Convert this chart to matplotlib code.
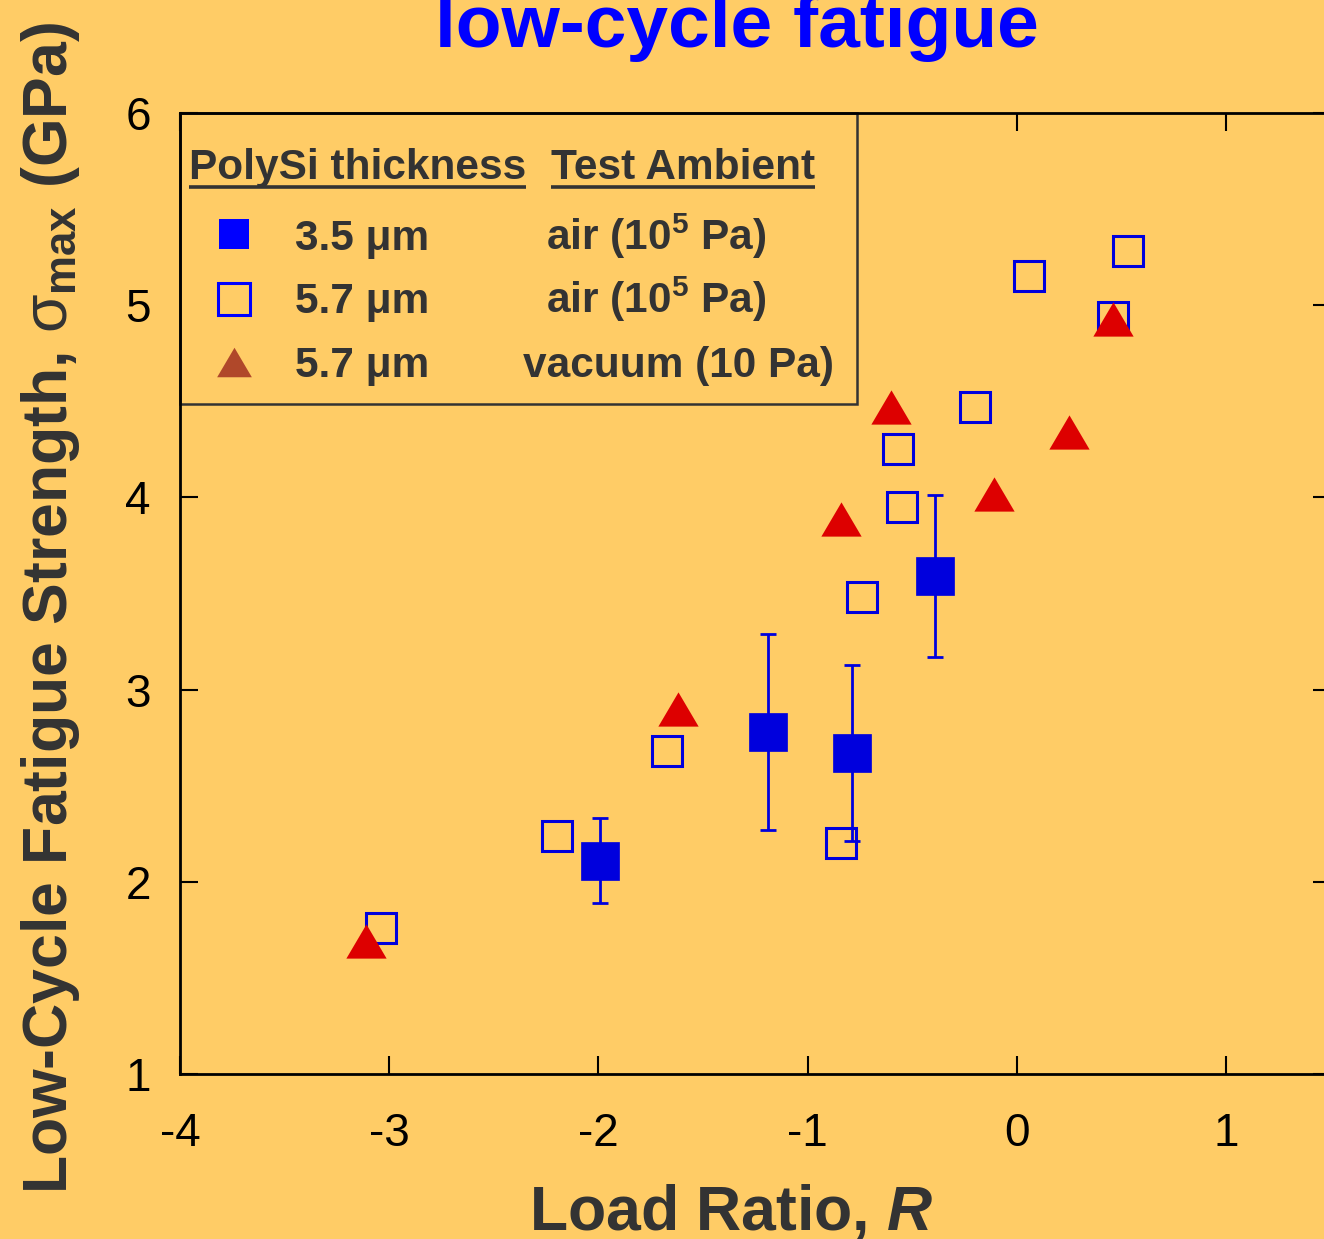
import matplotlib
matplotlib.use("Agg")
import matplotlib.pyplot as plt
from matplotlib.patches import Rectangle

plt.rcParams['font.family'] = ['Liberation Sans', 'DejaVu Sans']
plt.rcParams['mathtext.fontset'] = 'custom'
plt.rcParams['mathtext.rm'] = 'Liberation Sans:bold'
plt.rcParams['mathtext.bf'] = 'Liberation Sans:bold'
plt.rcParams['mathtext.it'] = 'Liberation Sans'
plt.rcParams['mathtext.bfit'] = 'Liberation Sans:italic:bold'

# 3.5 um film, air, with scatter bars
x_thin = [-1.99, -1.19, -0.79, -0.39]
y_thin = [2.11, 2.78, 2.67, 3.59]
err_thin = [0.22, 0.51, 0.46, 0.42]

# 5.7 um film, air
x_thick_air = [-3.04, -2.20, -1.67, -0.84, -0.74, -0.55, -0.57, -0.20, 0.06, 0.53, 0.46]
y_thick_air = [1.76, 2.24, 2.68, 2.20, 3.48, 3.95, 4.25, 4.47, 5.15, 5.28, 4.94]

# 5.7 um film, vacuum
x_thick_vac = [-3.11, -1.62, -0.84, -0.60, -0.11, 0.25, 0.46]
y_thick_vac = [1.69, 2.90, 3.89, 4.47, 4.02, 4.34, 4.93]

x_ticks = [-4, -3, -2, -1, 0, 1]
y_ticks = [1, 2, 3, 4, 5, 6]

BG = '#ffcc66'
BLUE = '#0000dd'
RED = '#dd0000'
BROWN = '#b0482a'
GRAY = '#333333'

W, H = 1324, 1239
fig = plt.figure(figsize=(W / 100, H / 100), dpi=100, facecolor=BG)
ax = fig.add_axes((180 / W, (H - 1074) / H, 1150.6 / W, 961 / H), facecolor=BG)

tri = [(-1, -0.85), (1, -0.85), (0, 0.85)]

ax.errorbar(x_thin, y_thin, yerr=err_thin, fmt='none', ecolor=BLUE,
            elinewidth=2.0, capsize=5.5, capthick=2.0, zorder=3)
ax.plot(x_thin, y_thin, 's', ms=27.5, color=BLUE, mec=BLUE, mew=0.5, zorder=4)
ax.plot(x_thick_air, y_thick_air, 's', ms=21.5, mfc='none', mec=BLUE, mew=2.2, zorder=4)
ax.plot(x_thick_vac, y_thick_vac, marker=tri, ls='none', ms=29, color=RED, mew=0, zorder=5)

ax.set_xlim(-4, 1.5)
ax.set_ylim(1, 6)
ax.set_xticks(x_ticks)
ax.set_yticks(y_ticks)
ax.set_xticklabels([str(v) for v in x_ticks])
ax.tick_params(direction='in', top=True, right=True, length=13, width=1.5,
               labelsize=33, pad=21, colors='black')
ax.tick_params(axis='x', pad=27)
for s in ax.spines.values():
    s.set_linewidth(2.0)
    s.set_color('black')
    s.set_zorder(10)

ax.set_xlabel(r'Load Ratio, $\mathbfit{R}$', fontsize=45, fontweight='bold',
              color=GRAY, va='baseline')
ax.xaxis.set_label_coords((731 - 180) / 1150.6, (1074 - 1230) / 961)
ax.set_ylabel(r'Low-Cycle Fatigue Strength, $\sigma_{\rm max}$ (GPa)', fontsize=45,
              fontweight='bold', color=GRAY, va='baseline')
ax.yaxis.set_label_coords((67 - 180) / 1150.6, (1074 - 608) / 961)

fig.text(737 / W, 1 - 47 / H, 'low-cycle fatigue', fontsize=54, fontweight='bold',
         color='#0000ff', ha='center', va='baseline')


# legend box, drawn by hand in pixel positions of the figure
def ac(px, py):
    return (px - 180) / 1150.6, (1074 - py) / 961


x0, y0 = ac(180, 404)
x1, y1 = ac(857, 113)
ax.add_patch(Rectangle((x0, y0), x1 - x0, y1 - y0, transform=ax.transAxes,
                       facecolor=BG, edgecolor=GRAY, lw=1.8, zorder=6, clip_on=False))

txt = dict(fontsize=30.5, fontweight='bold', color=GRAY, va='baseline',
           transform=ax.transAxes, zorder=7)
h1 = ax.text(*ac(189, 179), 'PolySi thickness', **txt)
h2 = ax.text(*ac(551, 179), 'Test Ambient', **txt)

rows = [
    (250, '3.5 μm', 546, r'air (10$^{\mathbf{5}}$ Pa)'),
    (313, '5.7 μm', 546, r'air (10$^{\mathbf{5}}$ Pa)'),
    (377, '5.7 μm', 523, 'vacuum (10 Pa)'),
]
for py, a, xb, b in rows:
    ax.text(*ac(295, py), a, **txt)
    ax.text(*ac(xb, py), b, **txt)

mk = dict(transform=ax.transAxes, clip_on=False, zorder=7, ls='none')
ax.plot(*ac(234, 234), 's', ms=22, color='#0000ff', mew=0, **mk)
ax.plot(*ac(234, 299), 's', ms=23, mfc='none', mec='#0000ff', mew=2.2, **mk)
ax.plot(*ac(234, 362), marker=tri, ms=25, color=BROWN, mew=0, **mk)

fig.canvas.draw()
r = fig.canvas.get_renderer()
for h in (h1, h2):
    bb = h.get_window_extent(r)
    ux0 = (bb.x0 - ax.bbox.x0) / ax.bbox.width
    ux1 = (bb.x1 - ax.bbox.x0) / ax.bbox.width
    uy = ac(0, 187)[1]
    ax.plot([ux0, ux1], [uy, uy], color=GRAY, lw=2.6, transform=ax.transAxes,
            clip_on=False, zorder=7, solid_capstyle='butt')

fig.savefig('out.png', dpi=100, facecolor=BG)
